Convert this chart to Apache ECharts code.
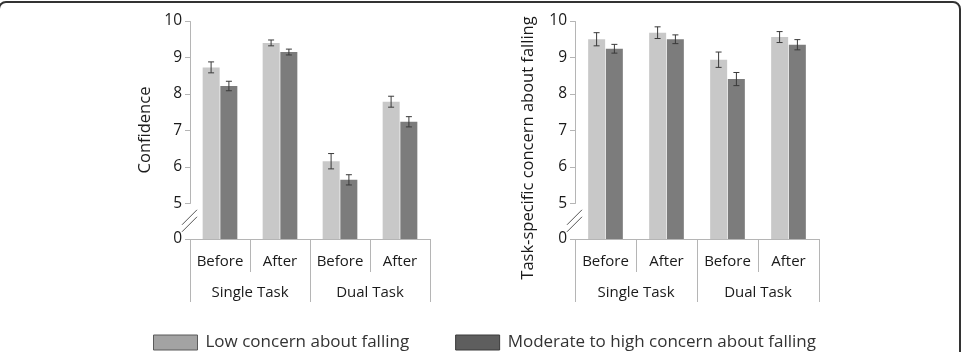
<!DOCTYPE html>
<html>
<head>
<meta charset="utf-8">
<script src="https://cdn.jsdelivr.net/npm/echarts@6/dist/echarts.min.js"></script>
<style>
  html, body { margin: 0; padding: 0; background: #fff; }
  #chart { width: 963px; height: 352px; }
</style>
</head>
<body>
<div id="chart"></div>
<script>
// data
var categories = ['Before', 'After', 'Before', 'After'];
var tasks = ['Single Task', 'Dual Task'];
var seriesNames = ['Low concern about falling', 'Moderate to high concern about falling'];

var confLow = [8.73, 9.40, 6.16, 7.79];
var confLowErr = [0.15, 0.08, 0.21, 0.15];
var confMod = [8.22, 9.15, 5.65, 7.24];
var confModErr = [0.13, 0.08, 0.14, 0.14];

var concernLow = [9.50, 9.68, 8.94, 9.56];
var concernLowErr = [0.18, 0.16, 0.21, 0.15];
var concernMod = [9.24, 9.50, 8.41, 9.35];
var concernModErr = [0.12, 0.12, 0.18, 0.14];

var yTicks = [0, 5, 6, 7, 8, 9, 10];

var FONT = 'Open Sans';
var BAR_W = 17;
var grids = [
    { left: 190, width: 240, top: 21, bottom: 113 },
    { left: 575, width: 244, top: 21, bottom: 113 }
];

var chart = echarts.init(document.getElementById('chart'));

function yAxis(gi, name, gap, pad) {
    return {
        type: 'value',
        gridIndex: gi,
        min: 0,
        max: 10,
        interval: 1,
        breaks: [{ start: 0, end: 5, gap: 0.97 }],
        breakArea: { show: false },
        name: name,
        nameLocation: 'middle',
        nameGap: gap,
        nameTextStyle: { fontFamily: FONT, fontSize: 16.5, color: '#1a1a1a', padding: pad },
        axisLine: { show: true, lineStyle: { color: '#b5b5b5', width: 1 } },
        axisTick: { show: true, length: 5, lineStyle: { color: '#b5b5b5' } },
        splitLine: { show: false },
        axisLabel: {
            fontFamily: FONT, fontSize: 15.5, color: '#1a1a1a', margin: 8,
            formatter: function (v) { return yTicks.indexOf(v) >= 0 ? String(v) : ''; }
        }
    };
}

function xAxes(gi) {
    return [{
        type: 'category',
        gridIndex: gi,
        data: categories,
        axisLine: { lineStyle: { color: '#b5b5b5' } },
        axisTick: { show: true, interval: 0, length: 33, lineStyle: { color: '#b5b5b5' } },
        axisLabel: { fontFamily: FONT, fontSize: 15, color: '#1a1a1a', margin: 15, interval: 0 }
    }, {
        type: 'category',
        gridIndex: gi,
        position: 'bottom',
        data: tasks,
        axisLine: { show: false },
        axisTick: { show: true, interval: 0, length: 63, lineStyle: { color: '#b5b5b5' } },
        axisLabel: { fontFamily: FONT, fontSize: 15, color: '#1a1a1a', margin: 46, interval: 0 }
    }];
}

function barSeries(name, color, xi, yi, data) {
    return {
        name: name,
        type: 'bar',
        xAxisIndex: xi,
        yAxisIndex: yi,
        barWidth: BAR_W,
        barGap: '4%',
        itemStyle: { color: color },
        data: data
    };
}

function errSeries(name, xi, yi, vals, errs, side) {
    return {
        name: name,
        type: 'custom',
        xAxisIndex: xi,
        yAxisIndex: yi,
        z: 5,
        data: vals.map(function (v, i) { return [i, v - errs[i], v + errs[i]]; }),
        renderItem: function (params, api) {
            var lo = api.coord([api.value(0), api.value(1)]);
            var hi = api.coord([api.value(0), api.value(2)]);
            var x = lo[0] + side * (BAR_W / 2 + 0.4);
            var c = 3;
            var st = { stroke: '#3a3a3a', lineWidth: 1 };
            return {
                type: 'group',
                children: [
                    { type: 'line', shape: { x1: x, y1: lo[1], x2: x, y2: hi[1] }, style: st },
                    { type: 'line', shape: { x1: x - c, y1: lo[1], x2: x + c, y2: lo[1] }, style: st },
                    { type: 'line', shape: { x1: x - c, y1: hi[1], x2: x + c, y2: hi[1] }, style: st }
                ]
            };
        }
    };
}

var LIGHT = '#c8c8c8';
var DARK = '#7c7c7c';

var option = {
    animation: false,
    textStyle: { fontFamily: FONT },
    grid: grids,
    legend: {
        left: 148,
        top: 329,
        itemWidth: 44,
        itemHeight: 15,
        itemGap: 46,
        icon: 'rect',
        textStyle: { fontFamily: FONT, fontSize: 17, color: '#333', padding: [0, 0, 0, 3] },
        data: [
            { name: seriesNames[0], itemStyle: { color: '#a3a3a3', borderColor: '#5a5a5a', borderWidth: 1 } },
            { name: seriesNames[1], itemStyle: { color: '#5e5e5e', borderColor: '#3a3a3a', borderWidth: 1 } }
        ]
    },
    xAxis: xAxes(0).concat(xAxes(1)),
    yAxis: [
        yAxis(0, 'Confidence', 36, 0),
        yAxis(1, 'Task-specific concern about falling', 38, [0, 36, 0, 0])
    ],
    series: [
        barSeries(seriesNames[0], LIGHT, 0, 0, confLow),
        barSeries(seriesNames[1], DARK, 0, 0, confMod),
        errSeries(seriesNames[0], 0, 0, confLow, confLowErr, -1),
        errSeries(seriesNames[1], 0, 0, confMod, confModErr, 1),
        barSeries(seriesNames[0], LIGHT, 2, 1, concernLow),
        barSeries(seriesNames[1], DARK, 2, 1, concernMod),
        errSeries(seriesNames[0], 2, 1, concernLow, concernLowErr, -1),
        errSeries(seriesNames[1], 2, 1, concernMod, concernModErr, 1)
    ]
};

chart.setOption(option);

// axis break marks "//" and the outer frame
var marks = [];
[0, 1].forEach(function (gi) {
    var y0 = chart.convertToPixel({ yAxisIndex: gi }, 0);
    var y5 = chart.convertToPixel({ yAxisIndex: gi }, 5);
    var ym = (y0 + y5) / 2;
    var x = grids[gi].left;
    [-3.5, 3.5].forEach(function (d) {
        marks.push({
            type: 'line',
            shape: { x1: x - 8, y1: ym + d + 7, x2: x + 7, y2: ym + d - 8 },
            style: { stroke: '#555', lineWidth: 1 }
        });
    });
});
marks.push({
    type: 'rect',
    shape: { x: -1, y: 2, width: 961, height: 420, r: 7 },
    style: { fill: 'none', stroke: '#333', lineWidth: 2 }
});
chart.setOption({ graphic: marks });
</script>
</body>
</html>
